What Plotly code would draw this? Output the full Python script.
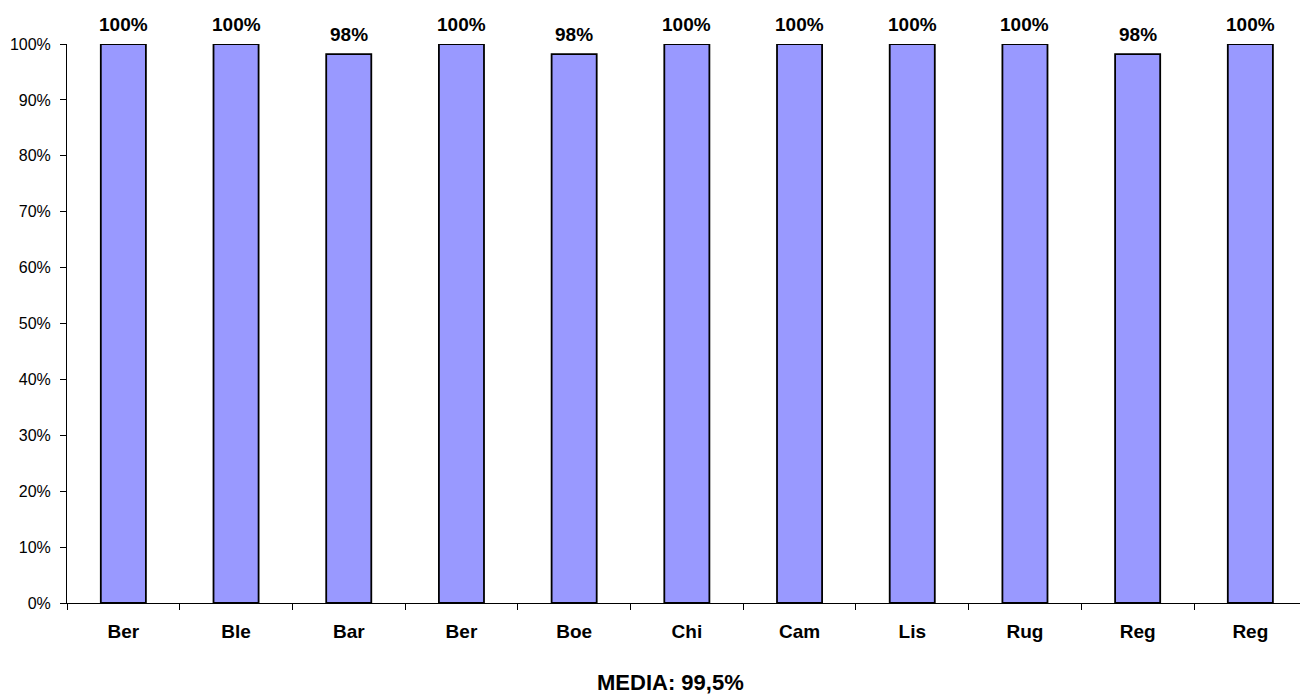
import plotly.graph_objects as go

# Share per site (percent)
sites = ["Ber", "Ble", "Bar", "Ber", "Boe", "Chi", "Cam", "Lis", "Rug", "Reg", "Reg"]
values = [100, 100, 98.2, 100, 98.2, 100, 100, 100, 100, 98.2, 100]
y_ticks = list(range(0, 101, 10))

FONT = "Liberation Sans, Arial, sans-serif"
W, H = 1300, 694
L, R, T, B = 67, 0, 44, 91

positions = list(range(len(sites)))
mean_val = sum(values) / len(values)

fig = go.Figure()
fig.add_trace(go.Bar(
    x=positions,
    y=values,
    width=0.4,
    marker=dict(color="#9999FF", line=dict(color="#000000", width=1.8)),
    hoverinfo="skip",
))

# Value labels above each bar
for xi, v in zip(positions, values):
    fig.add_annotation(
        x=xi, y=v, xref="x", yref="y",
        text=f"<b>{v:.0f}%</b>",
        showarrow=False, yanchor="middle", yshift=20,
        font=dict(family=FONT, size=19, color="#000000"),
    )

# Average shown under the axis
fig.add_annotation(
    xref="paper", yref="paper", x=(670 - L) / (W - L - R), y=-(682 - (H - B)) / (H - T - B),
    text="<b>MEDIA: " + f"{mean_val:.1f}".replace(".", ",") + "%</b>",
    showarrow=False, xanchor="center", yanchor="middle",
    font=dict(family=FONT, size=22, color="#000000"),
)

px_per_cat = 112.7
right_edge = -0.5 + (W - L - R) / px_per_cat

fig.update_layout(
    width=W, height=H,
    margin=dict(l=L, r=R, t=T, b=B, pad=0),
    paper_bgcolor="#FFFFFF", plot_bgcolor="#FFFFFF",
    showlegend=False,
    bargap=0.6,
    xaxis=dict(
        range=[-0.5, right_edge],
        tickmode="array", tickvals=positions, ticktext=[f"<b>{s}</b>" for s in sites],
        showgrid=False, zeroline=False,
        showline=True, linecolor="#000000", linewidth=1,
        ticks="",
        tickfont=dict(family=FONT, size=19, color="#000000"),
        ticklabelstandoff=11,
        # tick marks sit on the boundaries between categories
        minor=dict(ticks="outside", ticklen=6, tickcolor="#000000", tickwidth=1,
                   tick0=-0.5, dtick=1, showgrid=False),
    ),
    yaxis=dict(
        range=[0, 100],
        tickmode="array", tickvals=y_ticks, ticktext=[f"{t}%" for t in y_ticks],
        showgrid=False, zeroline=False,
        showline=True, linecolor="#000000", linewidth=1,
        ticks="outside", ticklen=6, tickcolor="#000000", tickwidth=1,
        tickfont=dict(family=FONT, size=16, color="#000000"),
        ticklabelstandoff=6,
    ),
)

fig.write_html("out.html")
